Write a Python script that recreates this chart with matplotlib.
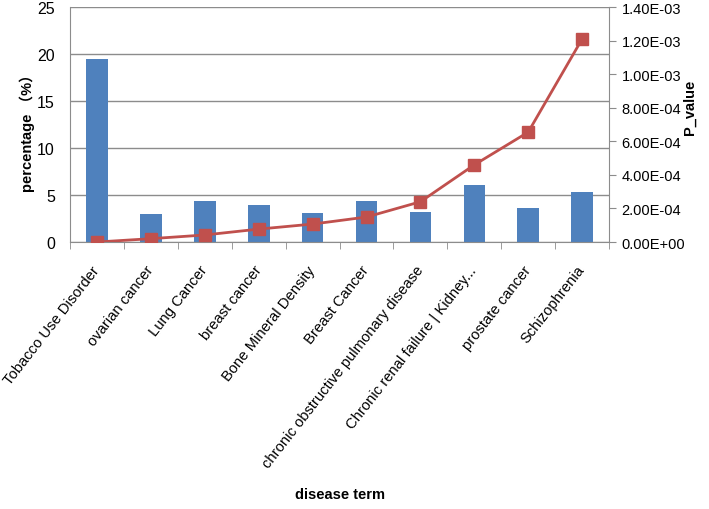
import numpy as np
import matplotlib
matplotlib.use('Agg')
import matplotlib.pyplot as plt
from matplotlib.ticker import FuncFormatter

diseases = ['Tobacco Use Disorder', 'ovarian cancer', 'Lung Cancer', 'breast cancer',
            'Bone Mineral Density', 'Breast Cancer', 'chronic obstructive pulmonary disease',
            'Chronic renal failure | Kidney...', 'prostate cancer', 'Schizophrenia']
percentage = [19.5, 3.0, 4.35, 3.9, 3.1, 4.35, 3.15, 6.05, 3.65, 5.3]
p_value = [0.0, 2.0e-5, 4.2e-5, 7.7e-5, 1.07e-4, 1.49e-4, 2.4e-4, 4.6e-4, 6.55e-4, 1.21e-3]

plt.rcParams['font.family'] = ['Liberation Sans', 'DejaVu Sans']

fig = plt.figure(figsize=(7.09, 5.10), dpi=100)
ax = fig.add_axes([0.099, 0.5235, 0.76, 0.4605])
x = np.arange(len(diseases))

ax.bar(x, percentage, width=0.4, color='#4F81BD', zorder=2)
ax.set_ylim(0, 25)
ax.set_xlim(-0.5, len(diseases) - 0.5)
ax.set_yticks([0, 5, 10, 15, 20, 25])
ax.yaxis.grid(True, color='#8c8c8c', linewidth=1)
ax.set_axisbelow(True)
for s in ['top', 'right']:
    ax.spines[s].set_visible(False)
ax.spines['left'].set_color('#8c8c8c')
ax.spines['bottom'].set_color('#8c8c8c')
ax.tick_params(axis='y', length=0, labelsize=11.5, pad=11)
fig.text(0.038, 0.745, 'percentage （%）', rotation=90, ha='center', va='center',
         fontsize=10.5, fontweight='bold', family=['Liberation Sans', 'Noto Sans CJK SC', 'DejaVu Sans'])

ax.set_xticks(x)
ax.set_xticklabels(diseases, rotation=52, ha='right', va='center', rotation_mode='anchor',
                   fontsize=10.6)
ax.tick_params(axis='x', length=0, pad=18)
ax.set_xticks(np.arange(-0.5, len(diseases), 1), minor=True)
ax.tick_params(axis='x', which='minor', length=5, color='#8c8c8c')
fig.text(0.48, 0.03, 'disease term', ha='center', va='center', fontsize=10.5, fontweight='bold')

ax2 = ax.twinx()
ax2.plot(x, p_value, color='#C0504D', linewidth=2, marker='s', markersize=8,
         markeredgecolor='#C0504D', zorder=3)
ax2.set_ylim(0, 1.4e-3)
ax2.set_yticks(np.arange(0, 1.41e-3, 2e-4))
ax2.yaxis.set_major_formatter(FuncFormatter(lambda v, p: '%.2E' % v))
for s in ['top', 'left', 'bottom']:
    ax2.spines[s].set_visible(False)
ax2.spines['right'].set_color('#8c8c8c')
ax2.tick_params(axis='y', length=5, color='#8c8c8c', labelsize=10.5, pad=4)
fig.text(0.973, 0.79, 'P_value', rotation=90, ha='center', va='center',
         fontsize=10.5, fontweight='bold')

fig.savefig('out.png', dpi=100)
